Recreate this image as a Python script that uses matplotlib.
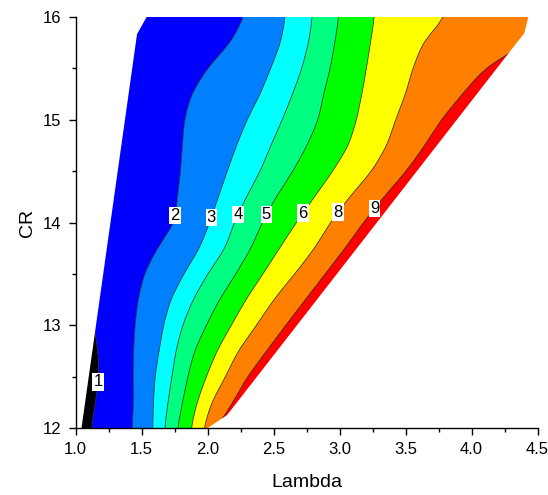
import numpy as np
import matplotlib
matplotlib.use("Agg")
import matplotlib.pyplot as plt
from matplotlib.patches import Polygon
from matplotlib.ticker import MultipleLocator, FormatStrFormatter

plt.rcParams['font.family'] = ['Liberation Sans', 'DejaVu Sans']

# CR rows at which the level crossings are tabulated
cr_rows = [12.0, 12.25, 12.5, 12.75, 13.0, 13.25, 13.5, 13.75, 14.0,
           14.25, 14.5, 14.75, 15.0, 15.25, 15.5, 15.75, 16.0]

# Contour levels and the Lambda at which each one is crossed on every CR row
levels = [1, 2, 3, 4, 5, 6, 8, 9]
lam_1 = [1.12, 1.15, 1.18, 1.17, 1.14, 1.10, 1.08, 1.08, 1.08,
         1.08, 1.08, 1.08, 1.08, 1.08, 1.08, 1.08, 1.08]
lam_2 = [1.429, 1.44, 1.437, 1.44, 1.45, 1.474, 1.52, 1.62, 1.752,
         1.773, 1.796, 1.81, 1.825, 1.879, 2.0, 2.176, 2.28]
lam_3 = [1.585, 1.59, 1.602, 1.633, 1.666, 1.72, 1.82, 1.94, 2.017,
         2.083, 2.15, 2.22, 2.30, 2.40, 2.48, 2.555, 2.59]
lam_4 = [1.675, 1.70, 1.73, 1.76, 1.81, 1.89, 2.00, 2.135, 2.202,
         2.295, 2.40, 2.48, 2.567, 2.645, 2.716, 2.766, 2.795]
lam_5 = [1.772, 1.81, 1.85, 1.90, 1.99, 2.09, 2.215, 2.33, 2.414,
         2.52, 2.648, 2.755, 2.84, 2.88, 2.93, 2.965, 2.994]
lam_6 = [1.875, 1.92, 1.99, 2.07, 2.18, 2.29, 2.42, 2.546, 2.673,
         2.811, 2.95, 3.07, 3.13, 3.17, 3.204, 3.235, 3.265]
lam_8 = [1.97, 2.03, 2.135, 2.23, 2.37, 2.50, 2.66, 2.811, 2.93,
         3.076, 3.245, 3.36, 3.425, 3.50, 3.555, 3.632, 3.80]
lam_9 = [2.06, 2.19, 2.30, 2.445, 2.59, 2.74, 2.89, 3.04, 3.18,
         3.335, 3.505, 3.645, 3.77, 3.93, 4.10, 4.42, 4.60]
crossings = [lam_1, lam_2, lam_3, lam_4, lam_5, lam_6, lam_8, lam_9]

# Boundary of the feasible (Lambda, CR) region
domain_lam = [1.045, 1.466, 1.540, 4.431, 4.400, 4.320, 2.149, 1.998]
domain_cr = [12.0, 15.83, 16.0, 16.0, 15.84, 15.71, 12.13, 12.0]

band_colors = ['#000000', '#0000FF', '#0080FF', '#00FFFF', '#00FF80',
               '#00FF00', '#FFFF00', '#FF8000', '#FF0000']

# Where each contour carries its value label (Lambda, CR)
label_pos = {1: (1.18, 12.45), 2: (1.779, 14.06), 3: (2.049, 14.04),
             4: (2.241, 14.07), 5: (2.453, 14.07), 6: (2.726, 14.09),
             8: (3.024, 14.07), 9: (3.286, 14.12)}


def smooth_along(values, step, sigma):
    """Gaussian smoothing of a 1-D profile sampled every `step`."""
    half = int(4 * sigma / step)
    k = np.exp(-0.5 * ((np.arange(-half, half + 1) * step) / sigma) ** 2)
    k /= k.sum()
    padded = np.pad(values, half, mode='edge')
    return np.convolve(padded, k, mode='valid')


# Build the field on a fine grid from the tabulated crossings
lam_grid = np.linspace(1.0, 4.5, 1401)
cr_grid = np.linspace(12.0, 16.0, 801)
step = cr_grid[1] - cr_grid[0]
profiles = [smooth_along(np.interp(cr_grid, cr_rows, c), step, 0.07)
            for c in crossings]
Z = np.empty((cr_grid.size, lam_grid.size))
for i in range(cr_grid.size):
    pos = [p[i] for p in profiles]
    Z[i] = np.interp(lam_grid, [0.0] + pos + [6.0], [0] + levels + [10])
LAM, CR = np.meshgrid(lam_grid, cr_grid)

fig = plt.figure(figsize=(5.48, 4.95), dpi=100)
ax = fig.add_axes([0.1378, 0.1347, 0.8431, 0.8316])

clip = Polygon(np.column_stack([domain_lam, domain_cr]), closed=True,
               facecolor='none', edgecolor='none', transform=ax.transData)
ax.add_patch(clip)

filled = ax.contourf(LAM, CR, Z, levels=[-1] + levels + [11],
                     colors=band_colors, antialiased=True)
filled.set_clip_path(clip)

for lev in levels:
    cs = ax.contour(LAM, CR, Z, levels=[lev], colors='#202020',
                    linewidths=0.5)
    cs.set_clip_path(clip)
    texts = ax.clabel(cs, fmt={lev: str(lev)}, inline=False, fontsize=12,
                      manual=[label_pos[lev]], colors='black')
    for t in texts:
        t.set_rotation(0)
        t.set_bbox(dict(facecolor='white', edgecolor='none', pad=0.8))
        t.set_zorder(5)

ax.set_xlim(1.0, 4.5)
ax.set_ylim(12, 16)
ax.xaxis.set_major_locator(MultipleLocator(0.5))
ax.xaxis.set_minor_locator(MultipleLocator(0.25))
ax.yaxis.set_major_locator(MultipleLocator(1))
ax.yaxis.set_minor_locator(MultipleLocator(0.5))
ax.xaxis.set_major_formatter(FormatStrFormatter('%.1f'))
ax.yaxis.set_major_formatter(FormatStrFormatter('%d'))
for side in ('top', 'right'):
    ax.spines[side].set_visible(False)
for side in ('left', 'bottom'):
    ax.spines[side].set_linewidth(1.0)
ax.tick_params(which='major', direction='out', length=5, width=1,
               labelsize=12, pad=5)
ax.tick_params(which='minor', direction='out', length=3, width=1)
ax.set_xlabel('Lambda', fontsize=14, labelpad=12)
ax.set_ylabel('CR', fontsize=14, labelpad=5)

fig.savefig('out.png', dpi=100)
